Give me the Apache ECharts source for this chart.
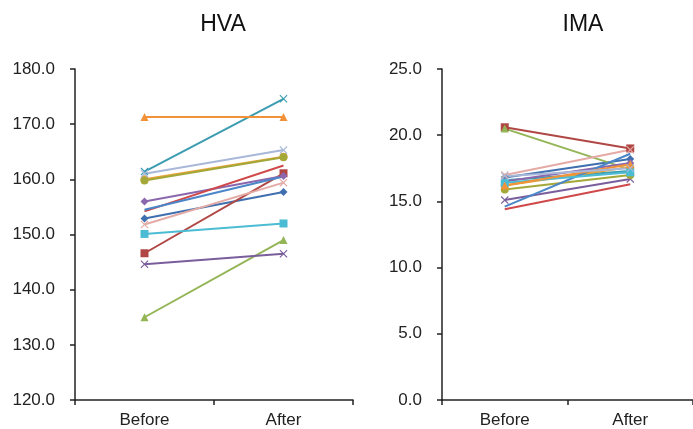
<!DOCTYPE html>
<html>
<head>
<meta charset="utf-8">
<script src="https://cdn.jsdelivr.net/npm/echarts@6/dist/echarts.min.js"></script>
<style>
  html, body { margin: 0; padding: 0; background: #fff; }
  #main { width: 693px; height: 429px; }
</style>
</head>
<body>
<div id="main"></div>
<script>
// categories
const categories = ['Before', 'After']

// per-subject values (Before, After)
const hva = [
  [152.9, 157.7],
  [146.6, 161.1],
  [135.0, 149.0],
  [144.6, 146.5],
  [161.4, 174.6],
  [160.0, 164.1],
  [159.8, 164.0],
  [156.0, 160.6],
  [154.2, 162.5],
  [154.5, 160.5],
  [151.8, 159.4],
  [150.1, 152.0],
  [171.3, 171.3],
  [161.0, 165.3]
]
const ima = [
  [16.8, 18.2],
  [20.6, 19.0],
  [20.5, 17.4],
  [15.1, 16.7],
  [16.6, 17.3],
  [16.2, 17.6],
  [15.9, 17.0],
  [16.5, 17.9],
  [14.4, 16.3],
  [14.6, 18.6],
  [17.0, 18.9],
  [16.4, 17.2],
  [16.2, 17.8],
  [16.9, 17.5]
]

const hvaTicks = { min: 120, max: 180, interval: 10 }
const imaTicks = { min: 0, max: 25, interval: 5 }

const colors = ['#3F6FAE', '#B04744', '#93B556', '#7A5E9C', '#3C9CB0', '#E8A33A', '#A3A838',
  '#8B68AE', '#D0494A', '#4A86C8', '#E4AAA6', '#4BBCD3', '#F29238', '#A9B8D9']
const xMark = 'path://M0,1L1,0L5,4L9,0L10,1L6,5L10,9L9,10L5,6L1,10L0,9L4,5Z'
const symbols = ['diamond', 'rect', 'triangle', xMark, xMark, 'circle', 'circle',
  'diamond', 'none', 'none', xMark, 'rect', 'triangle', xMark]

const axisLine = { show: true, lineStyle: { color: '#222', width: 1.5 } }
const axisTick = { show: true, inside: false, length: 5, lineStyle: { color: '#222', width: 1.5 } }
const font = 'Liberation Sans'

function xAxis (gridIndex) {
  return {
    type: 'category',
    gridIndex: gridIndex,
    data: categories,
    boundaryGap: true,
    axisLine: axisLine,
    axisTick: axisTick,
    axisLabel: { color: '#222', fontSize: 17, margin: 12, fontFamily: font },
    splitLine: { show: false }
  }
}
function yAxis (gridIndex, ticks) {
  return {
    type: 'value',
    gridIndex: gridIndex,
    min: ticks.min,
    max: ticks.max,
    interval: ticks.interval,
    axisLine: axisLine,
    axisTick: axisTick,
    axisLabel: {
      color: '#222',
      fontSize: 17,
      margin: 20,
      fontFamily: font,
      formatter: (v) => v.toFixed(1)
    },
    splitLine: { show: false }
  }
}

const series = []
function addSeries (data, idx) {
  data.forEach((pair, i) => {
    series.push({
      type: 'line',
      xAxisIndex: idx,
      yAxisIndex: idx,
      data: pair,
      symbol: symbols[i],
      symbolSize: 8,
      showSymbol: symbols[i] !== 'none',
      lineStyle: { color: colors[i], width: 2 },
      itemStyle: { color: colors[i] },
      silent: true,
      animation: false
    })
  })
}
addSeries(hva, 0)
addSeries(ima, 1)

const myChart = echarts.init(document.getElementById('main'))
myChart.setOption({
  animation: false,
  title: [
    { text: 'HVA', left: 218, top: 8, textAlign: 'center',
      textStyle: { fontSize: 23, fontWeight: 'normal', color: '#111', fontFamily: font } },
    { text: 'IMA', left: 578, top: 8, textAlign: 'center',
      textStyle: { fontSize: 23, fontWeight: 'normal', color: '#111', fontFamily: font } }
  ],
  grid: [
    { left: 75, top: 69, width: 278, height: 331 },
    { left: 442, top: 69, width: 260, height: 331 }
  ],
  xAxis: [xAxis(0), xAxis(1)],
  yAxis: [yAxis(0, hvaTicks), yAxis(1, imaTicks)],
  series: series
})
</script>
</body>
</html>
